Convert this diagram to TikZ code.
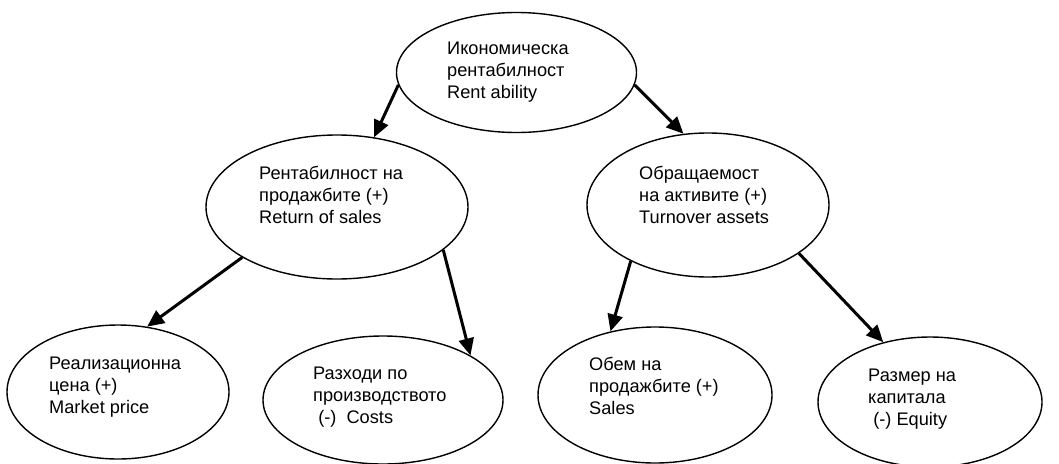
\documentclass[tikz,border=0pt]{standalone}
\usepackage{fontspec}
\setmainfont{Liberation Sans}
\usetikzlibrary{shapes.geometric,arrows.meta}

\tikzset{
  oval/.style={draw, ellipse, line width=1.4pt, inner sep=0pt},
  txt/.style={anchor=north west, align=left, inner sep=0pt, font=\fontsize{18.2}{21.8}\selectfont},
  link/.style={-{Triangle[length=17pt,width=15pt]}, line width=3pt}
}

\begin{document}
\begin{tikzpicture}[x=1pt, y=-1pt]
\useasboundingbox (0,0) rectangle (1059,463);

% ellipses
\node[oval, minimum width=240pt, minimum height=120pt] (ikon) at (516.5,72.5) {};
\node[oval, minimum width=262pt, minimum height=144pt] (rent) at (337,207) {};
\node[oval, minimum width=242pt, minimum height=144pt] (obr) at (708,205) {};
\node[oval, minimum width=222pt, minimum height=134pt] (real) at (118,392) {};
\node[oval, minimum width=240pt, minimum height=128pt] (razh) at (383,400) {};
\node[oval, minimum width=234pt, minimum height=136pt] (obem) at (655,395) {};
\node[oval, minimum width=224pt, minimum height=130pt] (razm) at (930,402) {};

% texts
\node[txt] (ikonT) at (447,42) {Икономическа\\рентабилност\\Rent ability};
\node[txt] (rentT) at (259,166) {Рентабилност на\\продажбите (+)\\Return of sales};
\node[txt] (obrT) at (639,166) {Обращаемост\\на активите (+)\\Turnover assets};
\node[txt] (realT) at (49,357) {Реализационна\\цена (+)\\Market price};
\node[txt] (razhT) at (313,367) {Разходи по\\производството\\\hspace*{0.28em}(-)\ \ Costs};
\node[txt] (obemT) at (589,357) {Обем на\\продажбите (+)\\Sales};
\node[txt] (razmT) at (868,369) {Размер на\\капитала\\\hspace*{0.28em}(-) Equity};

% arrows
\draw[link] (ikon.186) -- (rent.62);
\draw[link] (ikon.-6) -- (obr.109);
\draw[link] (rent.208) -- (real.66);
\draw[link] (rent.-22) -- (razh.27);
\draw[link] (obr.216) -- (obem.125);
\draw[link] (obr.-28) -- (razm.128);

\end{tikzpicture}
\end{document}
